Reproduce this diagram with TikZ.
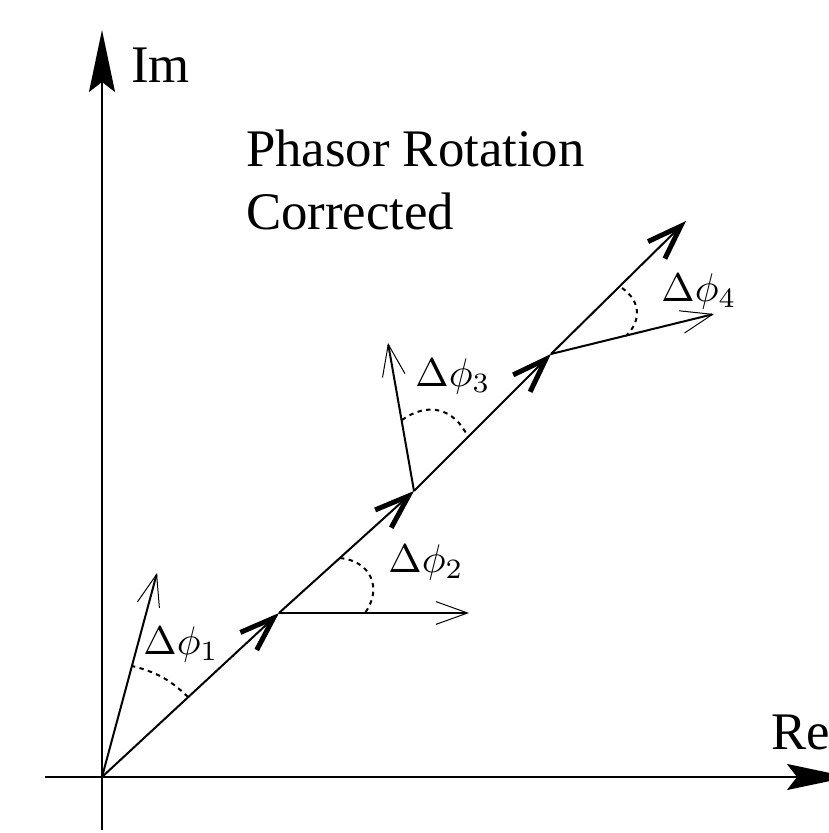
\documentclass[tikz,border=0pt]{standalone}
\usepackage{fontspec}
\setmainfont{Liberation Serif}
\usetikzlibrary{arrows.meta}

\begin{document}
\begin{tikzpicture}[
    x=0.25pt,
    y=0.25pt,
    line width=0.5pt,
    rotulo/.style={font=\fontsize{13.2}{15.8}\selectfont, inner sep=0pt, anchor=base west},
    eixo/.style={-{Stealth[length=15.5pt, width=6.5pt, inset=2.5pt]}},
    fasor/.style={-{Straight Barb[length=8.5pt, width=6pt, line width=1.25pt]}},
    girado/.style={-{Straight Barb[length=7.9pt, width=5.7pt, line width=0.25pt]}},
    angulo/.style={line width=0.5pt, dash pattern=on 1.1pt off 1.1pt}
]
\useasboundingbox (-102,-56) rectangle (726,777);

% Axes:
% origin at the crossing, Re to the right and Im upwards.
\coordinate (O) at (0,0);
\coordinate (reIni) at (-57,0);
\coordinate (reFim) at (747,0);
\coordinate (imIni) at (0,-53);
\coordinate (imFim) at (0,747);
\draw[eixo] (reIni) -- (reFim);
\draw[eixo] (imIni) -- (imFim);
\node[rotulo] (im) at (28,694) {Im};
\node[rotulo] (re) at (668,27) {Re};

% Title:
% two lines, left aligned, above the phasor chain.
\node[rotulo] (tit1) at (143,610) {Phasor Rotation};
\node[rotulo] (tit2) at (143,547) {Corrected};

% Corrected phasors:
% chained head to tail along the diagonal.
\coordinate (P1) at (177,164);
\coordinate (P2) at (312,286);
\coordinate (P3) at (449,423);
\coordinate (P4) at (584,556);
\draw[fasor] (O) -- (P1);
\draw[fasor] (P1) -- (P2);
\draw[fasor] (P2) -- (P3);
\draw[fasor] (P3) -- (P4);

% Rotated phasors:
% one from each chain point, thin heads.
\coordinate (T1) at (55,204);
\coordinate (T2) at (367,164);
\coordinate (T3) at (286,434);
\coordinate (T4) at (612,463);
\draw[girado] (O) -- (T1);
\draw[girado] (P1) -- (T2);
\draw[girado] (P2) -- (T3);
\draw[girado] (P3) -- (T4);

% Angles:
% dashed arcs between each pair, with their labels.
\coordinate (a1) at (86,80);    \coordinate (b1) at (30,111);
\coordinate (a2) at (238,219);  \coordinate (b2) at (263,164);
\coordinate (a3) at (300,357);  \coordinate (b3) at (366,340);
\coordinate (a4) at (520,489);  \coordinate (b4) at (524,441);
\draw[angulo] (a1) to[bend right=15] (b1);
\draw[angulo] (a2) to[bend left=60, looseness=1.3] (b2);
\draw[angulo] (a3) to[bend left=50, looseness=1.2] (b3);
\draw[angulo] (a4) to[bend left=50, looseness=1.2] (b4);

\node (phi1) at (79,132) {$\Delta\phi_1$};
\node (phi2) at (324,214) {$\Delta\phi_2$};
\node (phi3) at (351,400) {$\Delta\phi_3$};
\node (phi4) at (597,485) {$\Delta\phi_4$};

\end{tikzpicture}
\end{document}
